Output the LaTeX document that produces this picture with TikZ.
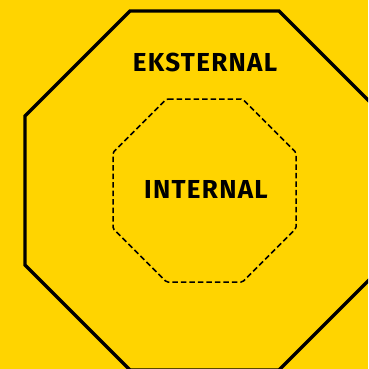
\documentclass[tikz,border=0pt]{standalone}
\usepackage{fontspec}
\setmainfont{Fira Sans}
\newfontfamily\signfont[LetterSpace=5]{Fira Sans}
\usetikzlibrary{calc}
\definecolor{signyellow}{HTML}{FFD400}
\tikzset{
  outerline/.style={line width=3.3pt, line join=miter},
  innerline/.style={line width=1.5pt, dash pattern=on 5.5pt off 3pt, rounded corners=1.5pt},
  label/.style={font=\signfont\fontsize{26}{26}\selectfont\bfseries, inner sep=0pt, anchor=center}
}
\begin{document}
\begin{tikzpicture}[x=1pt,y=-1pt]
\useasboundingbox (0,0) rectangle (368,369);
\fill[signyellow] (0,0) rectangle (368,369);
\coordinate (c) at (204.5,190.5);
\begin{scope}
\clip (0,0) rectangle (368,369);
\draw[outerline] ($(c)+(-74.5,-179.5)$) -- ($(c)+(74.5,-179.5)$) -- ($(c)+(179.5,-74.5)$) -- ($(c)+(179.5,74.5)$) -- ($(c)+(74.5,179.5)$) -- ($(c)+(-74.5,179.5)$) -- ($(c)+(-179.5,74.5)$) -- ($(c)+(-179.5,-74.5)$) -- cycle;
\end{scope}
\draw[innerline] ($(c)+(-38,-91.5)$) -- ($(c)+(38,-91.5)$) -- ($(c)+(91.5,-38)$) -- ($(c)+(91.5,38)$) -- ($(c)+(38,91.5)$) -- ($(c)+(-38,91.5)$) -- ($(c)+(-91.5,38)$) -- ($(c)+(-91.5,-38)$) -- cycle;
\node[label] (ext) at (205,62) {EKSTERNAL};
\node[label] (int) at (206,189) {INTERNAL};
\end{tikzpicture}
\end{document}
